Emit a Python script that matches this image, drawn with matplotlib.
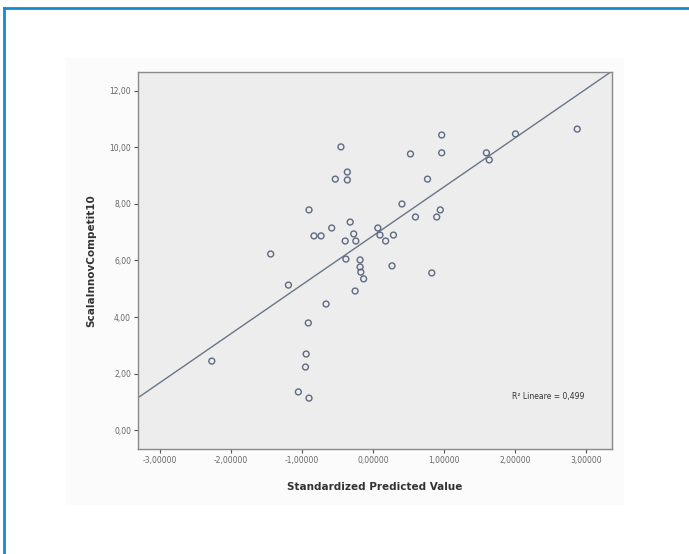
import numpy as np
import matplotlib
matplotlib.use("Agg")
import matplotlib.pyplot as plt
from matplotlib.lines import Line2D
from matplotlib.patches import Rectangle

# standardized predicted value (x) vs ScalaInnovCompetit10 (y)
pred_std = [-2.27, -1.44, -1.19, -0.66, -0.91, -0.94, -0.95, -1.05, -0.90,
            -0.83, -0.73, -0.90, -0.58, -0.45, -0.53, -0.36, -0.36, -0.32,
            -0.39, -0.27, -0.24, -0.38, -0.18, -0.18, -0.17, -0.13, -0.25,
            0.07, 0.10, 0.18, 0.29, 0.27, 0.41, 0.60, 0.53, 0.77, 0.83,
            0.90, 0.95, 0.97, 0.97, 1.60, 1.64, 2.01, 2.88]
innov = [2.44, 6.23, 5.13, 4.46, 3.79, 2.69, 2.23, 1.35, 1.13,
         6.87, 6.87, 7.79, 7.15, 10.02, 8.88, 9.13, 8.85, 7.36,
         6.69, 6.94, 6.69, 6.05, 6.02, 5.77, 5.59, 5.35, 4.92,
         7.15, 6.90, 6.69, 6.90, 5.81, 8.00, 7.54, 9.77, 8.88, 5.56,
         7.54, 7.79, 10.44, 9.81, 9.81, 9.56, 10.48, 10.65]

# fit line as drawn in the chart
fit_intercept = 6.87
fit_slope = 1.73
r2_text = "R\u00b2 Lineare = 0,499"

x_ticks = [-3, -2, -1, 0, 1, 2, 3]
x_labels = ["-3,00000", "-2,00000", "-1,00000", "0,00000", "1,00000", "2,00000", "3,00000"]
y_ticks = [0, 2, 4, 6, 8, 10, 12]
y_labels = ["0,00", "2,00", "4,00", "6,00", "8,00", "10,00", "12,00"]

W, H = 689, 554
fig = plt.figure(figsize=(W / 100, H / 100), dpi=100)
fig.patch.set_facecolor("white")

# faint SPSS chart background
fig.add_artist(Rectangle((66 / W, 1 - 505 / H), (624 - 66) / W, (505 - 58) / H,
                         transform=fig.transFigure, facecolor="#fbfbfb",
                         edgecolor="none", zorder=0))

# blue frame (top and left)
blue = "#1689d2"
fig.add_artist(Line2D([4 / W, 1.0], [1 - 8 / H, 1 - 8 / H], transform=fig.transFigure,
                      color=blue, lw=2.0))
fig.add_artist(Line2D([4 / W, 4 / W], [0.0, 1 - 8 / H], transform=fig.transFigure,
                      color=blue, lw=2.0))

ax = fig.add_axes([138 / W, 1 - 449 / H, (612 - 138) / W, (449 - 72) / H])
ax.set_facecolor("#ededed")
ax.set_xlim(-3.31, 3.37)
ax.set_ylim(-0.67, 12.67)

xs = np.array(ax.get_xlim())
ax.plot(xs, fit_intercept + fit_slope * xs, color="#6a7588", lw=1.0, zorder=2)

ax.scatter(pred_std, innov, s=18, facecolors="none", edgecolors="#5e6a80",
           linewidths=1.0, zorder=3)

ax.text(1.96, 1.2, r2_text, fontsize=5.5, color="#333333", va="center", ha="left")

ax.set_xticks(x_ticks)
ax.set_xticklabels(x_labels)
ax.set_yticks(y_ticks)
ax.set_yticklabels(y_labels)
ax.tick_params(direction="out", length=3, width=0.8, colors="#555555",
               labelsize=5.5, labelcolor="#666666", pad=2)
for s in ax.spines.values():
    s.set_color("#8a8a8a")
    s.set_linewidth(1.0)

ax.set_xlabel("Standardized Predicted Value", fontsize=7.5, fontweight="bold",
              color="#333333")
ax.xaxis.set_label_coords(0.5, -(482 - 449) / (449 - 72), transform=ax.transAxes)
ax.set_ylabel("ScalaInnovCompetit10", fontsize=7.5, fontweight="bold", color="#333333")
ax.yaxis.set_label_coords(-(138 - 96) / (612 - 138), 1 - (261 - 72) / (449 - 72))

fig.savefig("out.png", dpi=100)
